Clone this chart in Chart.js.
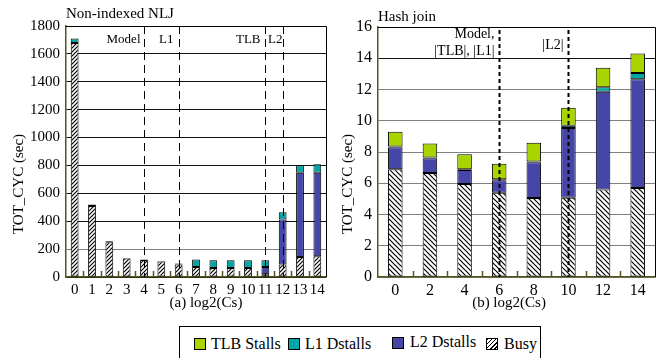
<!DOCTYPE html>
<html><head><meta charset="utf-8">
<script src="https://cdn.jsdelivr.net/npm/chart.js@4.4.0/dist/chart.umd.min.js"></script>
<style>
body{margin:0;background:#fff;width:665px;height:358px;overflow:hidden;position:relative;font-family:"Liberation Serif","Times New Roman",serif;color:#000;}
#c1{position:absolute;left:0;top:0;}
#c2{position:absolute;left:330px;top:0;}
#legend{position:absolute;left:179px;top:326px;width:362px;height:40px;border:1px solid #000;box-sizing:border-box;}
.sw{position:absolute;width:12px;height:12px;border:1px solid #000;box-sizing:border-box;}
.tx{position:absolute;font-size:16px;line-height:16px;white-space:nowrap;}
</style>
</head><body>
<canvas id="c1" width="330" height="320"></canvas>
<canvas id="c2" width="335" height="320"></canvas>
<div id="legend">
  <div class="sw" style="left:14px;top:11px;background:#a8d400"></div><div class="tx" style="left:31px;top:9px">TLB Stalls</div>
  <div class="sw" style="left:108px;top:11px;background:#00a5a5"></div><div class="tx" style="left:125px;top:9px">L1 Dstalls</div>
  <div class="sw" style="left:212px;top:10px;background:#4646a8"></div><div class="tx" style="left:230px;top:7px">L2 Dstalls</div>
  <div class="sw" style="left:306px;top:11px;background:repeating-linear-gradient(135deg,#000 0 1px,#fff 1px 3px)"></div><div class="tx" style="left:324px;top:9px">Busy</div>
</div>
<script>
// ---- data: Non-indexed NLJ ----
const nljCats = ['0','1','2','3','4','5','6','7','8','9','10','11','12','13','14'];
const nljBusy = [1678, 510, 250, 133, 122, 112, 90, 72, 65, 65, 65, 19, 90, 144, 149];
const nljL2   = [0, 0, 0, 0, 0, 0, 0, 0, 0, 0, 0, 53, 322, 603, 598];
const nljL1   = [32, 10, 6, 4, 3, 3, 6, 53, 55, 55, 55, 48, 53, 55, 62];
const nljTLB  = [0, 0, 0, 0, 0, 0, 0, 0, 0, 0, 0, 0, 0, 0, 0];
const nljMarkers = [['4','Model'],['6','L1'],['11','TLB'],['12','L2']];
// ---- data: Hash join ----
const hjCats = ['0','2','4','6','8','10','12','14'];
const hjBusy = [6.9, 6.65, 5.95, 5.4, 5.05, 5.08, 5.6, 5.7];
const hjL2   = [1.4, 0.95, 0.9, 0.8, 2.3, 4.45, 6.25, 6.95];
const hjL1   = [0.05, 0.05, 0.05, 0.05, 0.05, 0.15, 0.3, 0.4];
const hjTLB  = [0.95, 0.9, 0.95, 1.0, 1.2, 1.15, 1.25, 1.25];
const hjMarkers = [['6',['Model,','|TLB|, |L1|']],['10',['|L2|']]];

const COL_TLB='#a8d400', COL_L1='#00a5a5', COL_L2='#4646a8', OLIVE='#55551f';
const FONT='"Liberation Serif", "Times New Roman", serif';
Chart.defaults.font.family = FONT;
Chart.defaults.color = '#000';

function hatch(canvasId, s, dir){
  const c=document.createElement('canvas'); c.width=s; c.height=s;
  const g=c.getContext('2d'); g.fillStyle='#fff'; g.fillRect(0,0,s,s);
  g.strokeStyle='#000'; g.lineWidth=1.2; g.beginPath();
  if(dir>0){ g.moveTo(-1,s+1);g.lineTo(s+1,-1); g.moveTo(-1,1);g.lineTo(1,-1); g.moveTo(s-1,s+1);g.lineTo(s+1,s-1); }
  else { g.moveTo(-1,-1);g.lineTo(s+1,s+1); g.moveTo(-1,s-1);g.lineTo(1,s+1); g.moveTo(s-1,-1);g.lineTo(s+1,1); }
  g.stroke();
  return document.getElementById(canvasId).getContext('2d').createPattern(c,'repeat');
}

function makeChart(id, cats, busy, l2, l1, tlb, opt){
  const pat = hatch(id, opt.hs, opt.hdir);
  const ds = (label,data,bg)=>({label,data,backgroundColor:bg,borderColor:'#000',borderWidth:1,borderSkipped:false,
      barPercentage:opt.bp,categoryPercentage:1});
  const deco = {
    id:'deco'+id,
    afterDatasetsDraw(chart){
      const {ctx, chartArea:a, scales:{x}} = chart;
      ctx.save();
      ctx.strokeStyle='#000'; ctx.lineWidth=1;
      ctx.beginPath(); ctx.moveTo(a.left,a.top+0.5); ctx.lineTo(a.right+0.5,a.top+0.5); ctx.lineTo(a.right+0.5,a.bottom); ctx.stroke();
      ctx.strokeStyle=OLIVE; ctx.lineWidth=1.5;
      const n=cats.length, w=(a.right-a.left)/n;
      for(let i=1;i<n;i++){ const xx=Math.round(a.left+i*w)+0.5; ctx.beginPath(); ctx.moveTo(xx,a.bottom); ctx.lineTo(xx,a.bottom-6); ctx.stroke(); }
      ctx.strokeStyle='#000'; ctx.lineWidth=opt.dw;
      ctx.font=opt.mfont+'px '+FONT; ctx.fillStyle='#000'; ctx.textAlign='right'; ctx.textBaseline='middle';
      opt.markers.forEach(([at,txt],k)=>{
        const px=Math.round(x.getPixelForValue(cats.indexOf(at)))+0.5;
        ctx.setLineDash(opt.dash);
        ctx.beginPath(); ctx.moveTo(px,a.top+opt.dtop); ctx.lineTo(px,a.bottom); ctx.stroke();
        const lines=Array.isArray(txt)?txt:[txt];
        lines.forEach((t,j)=>{ ctx.fillText(t, px-opt.gaps[k], opt.ly[k]+j*opt.lh); });
      });
      ctx.setLineDash([]);
      ctx.textAlign='left'; ctx.textBaseline='middle'; ctx.font='15px '+FONT;
      ctx.fillText(opt.title, a.left, opt.ty);
      ctx.textAlign='center';
      ctx.fillText(opt.xtitle, opt.xtx, 303);
      ctx.translate(opt.ytx, 184); ctx.rotate(-Math.PI/2);
      ctx.fillText('TOT_CYC (sec)', 0, 0);
      ctx.restore();
    }
  };
  return new Chart(document.getElementById(id), {
    type:'bar',
    data:{labels:cats, datasets:[ds('Busy',busy,pat), ds('L2 Dstalls',l2,COL_L2), ds('L1 Dstalls',l1,COL_L1), ds('TLB Stalls',tlb,COL_TLB)]},
    options:{
      responsive:false, animation:false, devicePixelRatio:1,
      layout:{padding:{top:opt.pt,right:opt.pr,left:0,bottom:0}},
      plugins:{legend:{display:false},tooltip:{enabled:false}},
      scales:{
        x:{stacked:true, grid:{display:false, drawTicks:false}, border:{color:OLIVE,width:1.5},
           ticks:{font:{size:opt.xf}, padding:4, autoSkip:false, maxRotation:0, minRotation:0},
           afterFit:s=>{s.height=43;}},
        y:{stacked:true, min:0, max:opt.max, border:{color:OLIVE,width:1.5},
           grid:{drawTicks:false, color:c=>opt.gridCol(c.tick.value)},
           ticks:{stepSize:opt.step, font:{size:opt.yf}, padding:6, callback:v=>String(v)},
           afterFit:s=>{s.width=opt.yw;}}
      }
    },
    plugins:[deco]
  });
}

makeChart('c1', nljCats, nljBusy, nljL2, nljL1, nljTLB, {
  hs:4, hdir:1, bp:0.45, pt:26, pr:4, yw:66, max:1800, step:200, xf:15, yf:15,
  gridCol:v=> v===200 ? '#808080' : '#111',
  markers:nljMarkers, dash:[8,5], dw:1, dtop:0, mfont:13, gaps:[4,6,5,1], ly:[40,40,40,40], lh:0,
  title:'Non-indexed NLJ', ty:14, xtitle:'(a) log2(Cs)', xtx:206, ytx:19
});
makeChart('c2', hjCats, hjBusy, hjL2, hjL1, hjTLB, {
  hs:5, hdir:-1, bp:0.42, pt:27, pr:10, yw:48, max:16, step:2, xf:16, yf:16,
  gridCol:v=> v>=14 ? '#111' : '#808080',
  markers:hjMarkers, dash:[4,3], dw:2, dtop:3, mfont:14, gaps:[5,5], ly:[34,45], lh:17,
  title:'Hash join', ty:17, xtitle:'(b) log2(Cs)', xtx:179, ytx:18
});
</script>
</body></html>
